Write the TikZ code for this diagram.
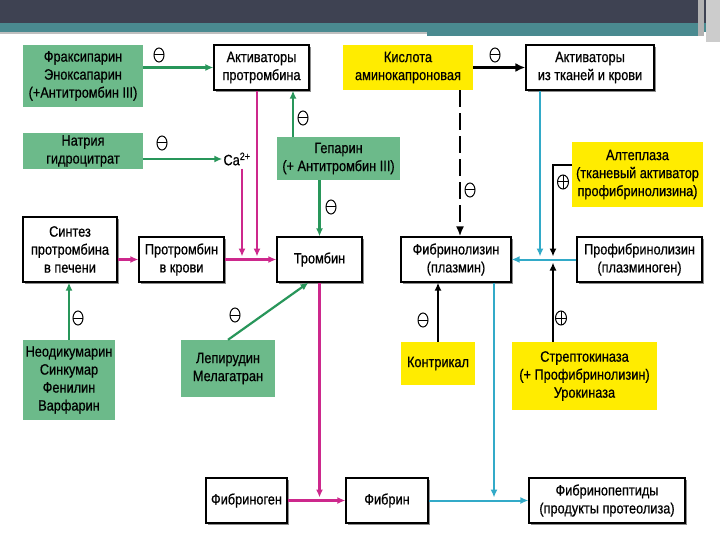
\documentclass[tikz,border=0pt]{standalone}
\usepackage{fontspec}
\setmainfont{Liberation Sans}[FakeStretch=0.85,FakeBold=0.6]
\usetikzlibrary{arrows.meta,shapes.geometric,shadows,calc}
\definecolor{hdark}{RGB}{62,66,82}
\definecolor{hteal}{RGB}{74,138,144}
\definecolor{boxgreen}{RGB}{108,186,138}
\definecolor{boxyellow}{RGB}{255,236,0}
\definecolor{garrc}{RGB}{40,150,90}
\definecolor{marrc}{RGB}{205,40,140}
\definecolor{carrc}{RGB}{50,170,200}
\begin{document}
\begin{tikzpicture}[x=1pt,y=-1pt,
  txt/.style={font=\fontsize{15pt}{18pt}\selectfont, align=center, inner sep=1pt},
  wbox/.style={txt, draw=black, line width=1.2pt, fill=white,
    drop shadow={shadow xshift=1.6pt, shadow yshift=-1.8pt, fill=black!45, opacity=1}},
  gbox/.style={txt, fill=boxgreen},
  ybox/.style={txt, fill=boxyellow},
  garr/.style={draw=garrc, line width=2.2pt, -{Latex[length=8pt,width=7pt]}},
  marr/.style={draw=marrc, line width=2.2pt, -{Latex[length=8pt,width=7pt]}},
  carr/.style={draw=carrc, line width=2pt, -{Latex[length=8pt,width=7pt]}},
  karr/.style={draw=black, line width=2pt, -{Latex[length=8pt,width=7pt]}},
  minussign/.style={ellipse, draw, line width=1pt, minimum width=10pt, minimum height=14pt, inner sep=0pt,
    path picture={\draw[line width=1pt] (path picture bounding box.west) -- (path picture bounding box.east);}},
  plussign/.style={ellipse, draw, line width=1pt, minimum width=11pt, minimum height=14pt, inner sep=0pt,
    path picture={\draw[line width=1pt] (path picture bounding box.west) -- (path picture bounding box.east)
      (path picture bounding box.north) -- (path picture bounding box.south);}}
]
\useasboundingbox (0,0) rectangle (720,540);
\fill[white] (0,0) rectangle (720,540);
% header
\fill[hdark] (0,0) rectangle (720,23);
\fill[hteal] (0,23) rectangle (720,32);
\fill[black!25] (0,32) rectangle (427,34);
\fill[hteal] (427,32) rectangle (700,36);
\fill[black!30] (698,0) rectangle (704,36);
\fill[black!20] (706,0) rectangle (720,42);

% nodes
\node[gbox, minimum width=120pt, minimum height=62pt] (frax) at (83,76) {Фраксипарин\\Эноксапарин\\(+Антитромбин III)};
\node[wbox, minimum width=95pt, minimum height=45pt] (aktp) at (261.5,67.5) {Активаторы\\протромбина};
\node[gbox, minimum width=120pt, minimum height=36pt] (natr) at (83,151) {Натрия\\гидроцитрат};
\node[txt, font=\fontsize{15pt}{17pt}\selectfont] (ca) at (237,159) {Ca\textsuperscript{2+}};
\node[gbox, minimum width=123pt, minimum height=43pt] (gep) at (338.5,158.5) {Гепарин\\(+ Антитромбин III)};
\node[wbox, minimum width=94pt, minimum height=65pt] (sint) at (70,249.5) {Синтез\\протромбина\\в печени};
\node[wbox, minimum width=85pt, minimum height=45pt] (protr) at (181.5,259.5) {Протромбин\\в крови};
\node[wbox, minimum width=85pt, minimum height=45pt] (tromb) at (319.5,259.5) {Тромбин};
\node[gbox, minimum width=92pt, minimum height=80pt] (neod) at (69,380) {Неодикумарин\\Синкумар\\Фенилин\\Варфарин};
\node[gbox, minimum width=94pt, minimum height=57pt] (lepir) at (228,368.5) {Лепирудин\\Мелагатран};
\node[ybox, minimum width=130pt, minimum height=45pt] (kisl) at (408,67.5) {Кислота\\аминокапроновая};
\node[wbox, minimum width=128pt, minimum height=45pt] (aktt) at (590,67.5) {Активаторы\\из тканей и крови};
\node[ybox, minimum width=131pt, minimum height=65pt] (altep) at (637.5,174.5) {Алтеплаза\\(тканевый активатор\\профибринолизина)};
\node[wbox, minimum width=110pt, minimum height=45pt] (fibrl) at (456,259.5) {Фибринолизин\\(плазмин)};
\node[wbox, minimum width=125pt, minimum height=45pt] (profib) at (639.5,259.5) {Профибринолизин\\(плазминоген)};
\node[ybox, minimum width=74pt, minimum height=43pt] (kontr) at (438,363.5) {Контрикал};
\node[ybox, minimum width=145pt, minimum height=68pt] (strep) at (584.5,376) {Стрептокиназа\\(+ Профибринолизин)\\Урокиназа};
\node[wbox, minimum width=81pt, minimum height=45pt] (fibrg) at (246.5,500.5) {Фибриноген};
\node[wbox, minimum width=82pt, minimum height=45pt] (fibrin) at (387,500.5) {Фибрин};
\node[wbox, minimum width=156pt, minimum height=45pt] (fibpep) at (607,500.5) {Фибринопептиды\\(продукты протеолиза)};

% helper coordinates
\coordinate (j1) at (257,259.5);
\coordinate (j2) at (242,259.5);
\coordinate (xg) at (293,0);
\coordinate (j3) at (320,500.5);
\coordinate (j4) at (540,259.5);
\coordinate (j5) at (553,259.5);
\coordinate (ya) at (0,165);
\coordinate (xd) at (460,0);
\coordinate (j6) at (494,500.5);

% green connectors
\draw[garr] (frax.east |- aktp.west) -- (aktp.west);
\draw[garr] (natr.east |- ca.west) -- (ca.west);
\draw[garr] (gep.north -| xg) -- (aktp.south -| xg);
\draw[garr] (gep.south -| tromb.north) -- (tromb.north);
\draw[garr] (neod.north) -- (neod.north |- sint.south);
\draw[garr] (lepir.north) -- ($(tromb.south)+(-11,0)$);

% magenta connectors
\draw[marr] (sint.east |- protr.west) -- (protr.west);
\draw[marr] (protr.east) -- (tromb.west);
\draw[marr] (aktp.south -| j1) -- ($(j1)+(0,-3)$);
\draw[marr] ($(ca.south -| j2)+(0,2)$) -- ($(j2)+(0,-3)$);
\draw[marr] (tromb.south) -- ($(tromb.south |- j3)+(0,-3)$);
\draw[marr] (fibrg.east) -- (fibrin.west);

% black connectors
\draw[draw=black, line width=3.2pt, -{Latex[length=10pt,width=9pt]}] (kisl.east |- aktt.west) -- (aktt.west);
\draw[draw=black, line width=2.8pt, dash pattern=on 17pt off 6pt, -{Latex[length=10pt,width=8pt]}] (kisl.south -| xd) -- (fibrl.north -| xd);
\draw[karr] (altep.west |- ya) -- (ya -| j5) -- ($(j5)+(0,-3)$);
\draw[karr] (strep.north -| j5) -- ($(j5)+(0,3)$);
\draw[karr] (kontr.north) -- (kontr.north |- fibrl.south);

% cyan connectors
\draw[carr] (aktt.south -| j4) -- ($(j4)+(0,-3)$);
\draw[carr] (profib.west) -- (fibrl.east);
\draw[carr] (fibrl.south -| j6) -- ($(j6)+(0,-3)$);
\draw[carr] (fibrin.east) -- (fibpep.west);

% signs
\node[minussign] (s1) at (159,55) {};
\node[minussign] (s2) at (162,143) {};
\node[minussign] (s3) at (303,118) {};
\node[minussign] (s4) at (331,207) {};
\node[minussign] (s5) at (78,318) {};
\node[minussign] (s6) at (235,315) {};
\node[minussign] (s7) at (495,55) {};
\node[minussign] (s8) at (470,190) {};
\node[plussign] (s9) at (563,182) {};
\node[minussign] (s10) at (423,320) {};
\node[plussign] (s11) at (561,318) {};
\end{tikzpicture}
\end{document}
